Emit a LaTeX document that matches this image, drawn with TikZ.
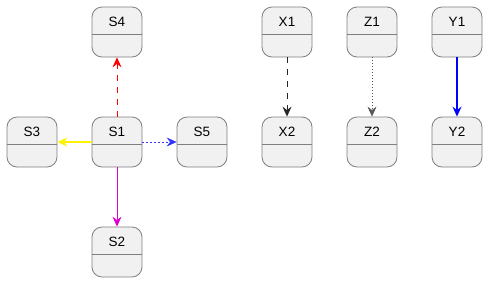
\documentclass[tikz,border=0pt]{standalone}
\usepackage{fontspec}
\setmainfont{Liberation Sans}
\usepackage{tikz}
\usetikzlibrary{arrows.meta}
\definecolor{statebg}{HTML}{F1F1F1}
\definecolor{stateline}{HTML}{7F7F7F}
\definecolor{tipmagenta}{HTML}{E000D0}

\tikzset{
  state/.style={draw=stateline, fill=statebg, line width=0.8pt, rounded corners=10pt,
    minimum width=50pt, inner sep=0pt, text height=19pt, text depth=31pt,
    font=\fontsize{13.5}{16}\selectfont,
    path picture={\draw[stateline, line width=0.8pt]
      ([yshift=-27pt]path picture bounding box.north west) --
      ([yshift=-27pt]path picture bounding box.north east);}},
  tr/.style={-{Stealth[length=10pt, width=9pt, inset=3.5pt]}, line width=0.8pt}
}

\begin{document}
\begin{tikzpicture}[x=1pt, y=-1pt]
  \useasboundingbox (0,0) rectangle (496,290);

  % cross of states round S1
  \node[state] (s1) at (117,142) {S1};
  \node[state] (s4) at (117,32) {S4};
  \node[state] (s3) at (32,142) {S3};
  \node[state] (s5) at (202,142) {S5};
  \node[state] (s2) at (117,252) {S2};

  \draw[tr, red, dash pattern=on 6pt off 6pt] (s1.north) -- (s4.south);
  \draw[tr, yellow, line width=1.2pt] (s1.west) -- (s3.east);
  \draw[tr, blue!80, line width=0.7pt, dash pattern=on 2pt off 2pt] (s1.east) -- (s5.west);
  \draw[tr, tipmagenta] (s1.south) -- (s2.north);

  % three pairs on the right
  \node[state] (x1) at (287,32) {X1};
  \node[state] (x2) at (287,142) {X2};
  \node[state] (z1) at (372,32) {Z1};
  \node[state] (z2) at (372,142) {Z2};
  \node[state] (y1) at (457,32) {Y1};
  \node[state] (y2) at (457,142) {Y2};

  \draw[tr, black!85, line width=1pt, dash pattern=on 6pt off 6pt] (x1.south) -- (x2.north);
  \draw[tr, black!65, line width=0.6pt, dash pattern=on 1pt off 2pt] (z1.south) -- (z2.north);
  \draw[tr, blue, line width=2pt] (y1.south) -- (y2.north);
\end{tikzpicture}
\end{document}
